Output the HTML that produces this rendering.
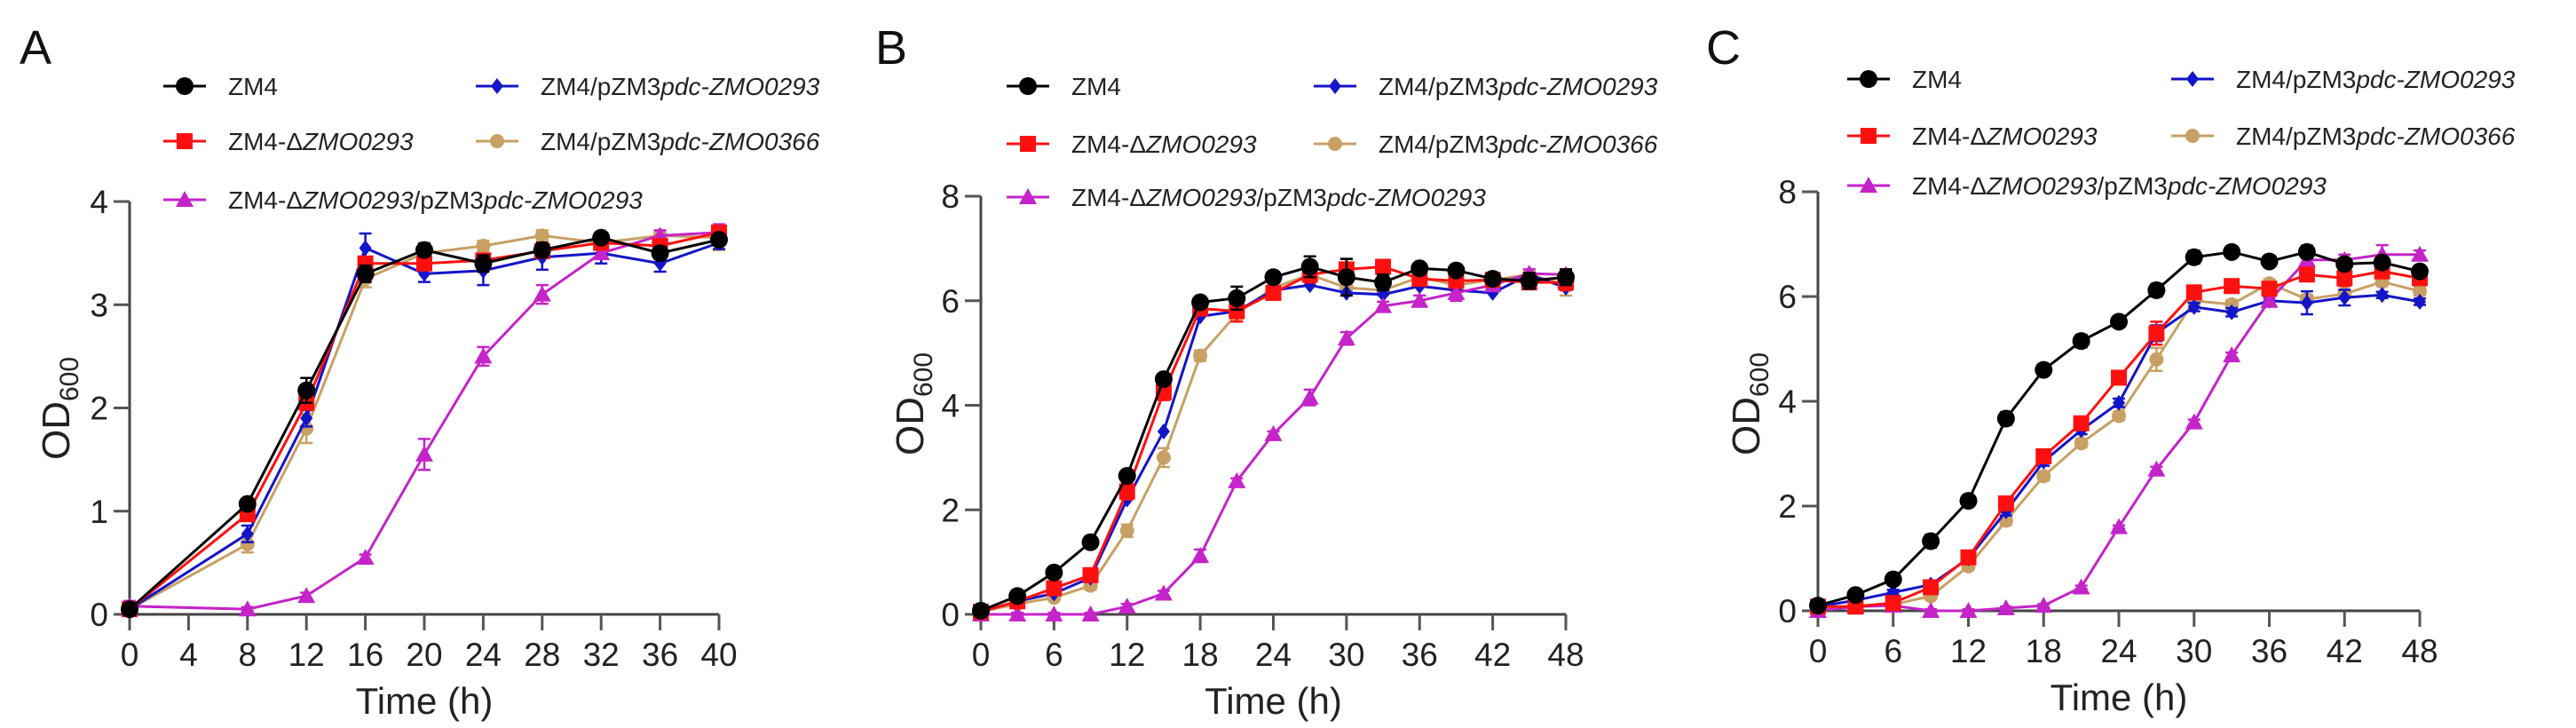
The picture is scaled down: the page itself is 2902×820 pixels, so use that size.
<!DOCTYPE html>
<html><head><meta charset="utf-8">
<style>
html,body{margin:0;padding:0;background:#fff;}
svg{display:block;font-family:"Liberation Sans",Arial,sans-serif;}
</style></head>
<body>
<svg id="fig" width="2902" height="820" viewBox="0 0 2902 820" xmlns="http://www.w3.org/2000/svg">
<text x="22" y="72" font-size="54" fill="#111">A</text>
<text x="986" y="72" font-size="54" fill="#111">B</text>
<text x="1922" y="72" font-size="54" fill="#111">C</text>
</svg>
<script>
// ---- Panel A data ----
const timeA = [0,8,12,16,20,24,28,32,36,40];
const a_zm4  = [0.05,1.07,2.17,3.30,3.53,3.40,3.53,3.65,3.50,3.63];
const a_del  = [0.05,0.97,2.05,3.40,3.40,3.43,3.52,3.60,3.57,3.70];
const a_blue = [0.05,0.78,1.90,3.55,3.30,3.33,3.46,3.50,3.40,3.60];
const a_tan  = [0.05,0.68,1.80,3.25,3.50,3.57,3.67,3.60,3.67,3.65];
const a_mag  = [0.08,0.05,0.18,0.55,1.55,2.50,3.10,3.50,3.67,3.70];
const a_err_zm4  = [0.03,0.05,0.12,0.08,0.06,0.08,0.07,0.04,0.06,0.05];
const a_err_blue = [0.03,0.08,0.08,0.14,0.08,0.14,0.12,0.10,0.08,0.06];
const a_err_tan  = [0.03,0.08,0.14,0.08,0.10,0.05,0.05,0.04,0.05,0.12];
const a_err_mag  = [0.05,0.02,0.03,0.03,0.15,0.09,0.09,0.05,0.05,0.08];
const a_xticks = [0,4,8,12,16,20,24,28,32,36,40];
const a_yticks = [0,1,2,3,4];
// ---- Panel B data ----
const timeBC = [0,3,6,9,12,15,18,21,24,27,30,33,36,39,42,45,48];
const b_zm4  = [0.07,0.35,0.80,1.38,2.65,4.50,5.97,6.05,6.45,6.65,6.45,6.35,6.62,6.58,6.42,6.38,6.45];
const b_del  = [0.05,0.25,0.50,0.75,2.35,4.25,5.85,5.80,6.15,6.50,6.60,6.65,6.42,6.38,6.40,6.35,6.35];
const b_blue = [0.05,0.25,0.40,0.70,2.20,3.50,5.70,5.80,6.20,6.30,6.15,6.12,6.28,6.20,6.15,6.50,6.25];
const b_tan  = [0.05,0.20,0.32,0.55,1.60,3.00,4.95,5.75,6.25,6.50,6.25,6.20,6.45,6.30,6.40,6.50,6.30];
const b_mag  = [0.00,0.00,0.00,0.00,0.15,0.40,1.12,2.55,3.45,4.15,5.28,5.90,6.00,6.15,6.30,6.52,6.50];
const b_err_zm4  = [0.05,0.05,0.08,0.10,0.10,0.10,0.10,0.22,0.10,0.20,0.35,0.15,0.10,0.10,0.10,0.15,0.15];
const b_err_del  = [0.05,0.05,0.08,0.08,0.15,0.15,0.10,0.20,0.10,0.15,0.20,0.10,0.10,0.10,0.10,0.10,0.15];
const b_err_tan  = [0.05,0.05,0.05,0.08,0.12,0.18,0.10,0.10,0.10,0.15,0.10,0.10,0.10,0.10,0.10,0.10,0.20];
const b_err_mag  = [0.03,0.03,0.03,0.03,0.05,0.05,0.12,0.05,0.05,0.15,0.12,0.08,0.10,0.15,0.10,0.08,0.10];
const b_xticks = [0,6,12,18,24,30,36,42,48];
const b_yticks = [0,2,4,6,8];
// ---- Panel C data ----
const c_zm4  = [0.10,0.30,0.60,1.33,2.10,3.67,4.60,5.15,5.52,6.12,6.75,6.85,6.67,6.85,6.62,6.65,6.48];
const c_del  = [0.08,0.08,0.15,0.45,1.02,2.05,2.95,3.58,4.45,5.30,6.08,6.20,6.15,6.42,6.35,6.48,6.35];
const c_blue = [0.08,0.20,0.35,0.50,1.00,1.90,2.85,3.45,3.97,5.30,5.80,5.70,5.92,5.88,5.98,6.03,5.90];
const c_tan  = [0.05,0.10,0.12,0.28,0.85,1.72,2.57,3.20,3.72,4.80,5.92,5.85,6.25,5.95,6.05,6.28,6.10];
const c_mag  = [0.00,0.08,0.10,0.00,0.00,0.05,0.10,0.45,1.60,2.70,3.60,4.88,5.92,6.70,6.70,6.80,6.80];
const c_err_zm4  = [0.05,0.05,0.06,0.12,0.06,0.12,0.06,0.12,0.06,0.12,0.12,0.06,0.06,0.12,0.10,0.08,0.08];
const c_err_del  = [0.05,0.05,0.05,0.10,0.08,0.10,0.10,0.10,0.10,0.22,0.08,0.08,0.08,0.12,0.15,0.10,0.10];
const c_err_blue = [0.05,0.05,0.05,0.05,0.05,0.08,0.08,0.08,0.08,0.15,0.08,0.08,0.08,0.22,0.15,0.06,0.06];
const c_err_tan  = [0.05,0.05,0.05,0.05,0.05,0.08,0.08,0.08,0.08,0.22,0.08,0.08,0.08,0.08,0.08,0.08,0.08];
const c_err_mag  = [0.03,0.03,0.03,0.03,0.03,0.03,0.03,0.03,0.03,0.05,0.05,0.05,0.05,0.22,0.10,0.18,0.08];
const c_xticks = [0,6,12,18,24,30,36,42,48];
const c_yticks = [0,2,4,6,8];

const NS = "http://www.w3.org/2000/svg";
const svg = document.getElementById('fig');
function mk(tag, attrs, parent){
  const e = document.createElementNS(NS, tag);
  for (const k in attrs) e.setAttribute(k, attrs[k]);
  (parent||svg).appendChild(e);
  return e;
}
const COL = {zm4:"#000000", del:"#ff1010", blue:"#1414c8", tan:"#c8a064", mag:"#c424c8"};

function marker(g, type, cx, cy, color, name){
  let m;
  if (type==="circle") m = mk('circle',{cx:cx,cy:cy,r:10,fill:color},g);
  else if (type==="square") m = mk('rect',{x:cx-9,y:cy-9,width:18,height:18,fill:color},g);
  else if (type==="diamond") m = mk('polygon',{points:`${cx},${cy-9} ${cx+7},${cy} ${cx},${cy+9} ${cx-7},${cy}`,fill:color},g);
  else if (type==="smallcircle") m = mk('circle',{cx:cx,cy:cy,r:8,fill:color},g);
  else m = mk('polygon',{points:`${cx},${cy-10} ${cx+10},${cy+8} ${cx-10},${cy+8}`,fill:color},g);
  
  
  return m;
}

function panel(p){
  const X = t => p.x0 + (t - 0) / p.xmax * (p.x1 - p.x0);
  const Y = v => p.y0 - v / p.ymax * (p.y0 - p.y1);
  const g = mk('g',{});
  
  
  // axes
  const ax = mk('path',{d:`M${p.x0},${Y(p.yticks[p.yticks.length-1])} L${p.x0},${p.y0} L${X(p.xticks[p.xticks.length-1])},${p.y0}`,stroke:"#444",'stroke-width':3,fill:"none"},g);
  
  
  p.yticks.forEach(v=>{
    const tl = mk('line',{x1:p.x0-18,x2:p.x0,y1:Y(v),y2:Y(v),stroke:"#555",'stroke-width':3},g);
    
    
    const tx = mk('text',{x:p.x0-24,y:Y(v)+13,'text-anchor':'end','font-size':37,fill:"#222"},g);
    tx.textContent = v;
    
    
  });
  p.xticks.forEach(t=>{
    const tl = mk('line',{x1:X(t),x2:X(t),y1:p.y0,y2:p.y0+18,stroke:"#555",'stroke-width':3},g);
    
    
    const tx = mk('text',{x:X(t),y:p.y0+58,'text-anchor':'middle','font-size':37,fill:"#222"},g);
    tx.textContent = t;
    
    
  });
  const xt = mk('text',{x:(p.x0+p.x1)/2,y:p.y0+112,'text-anchor':'middle','font-size':42,fill:"#222"},g);
  xt.textContent = "Time (h)";
  
  
  const yt = mk('text',{x:0,y:0,'text-anchor':'middle','font-size':44,fill:"#222",transform:`translate(${p.ytx},${p.yty}) rotate(-90)`},g);
  yt.innerHTML = 'OD<tspan font-size="30" dy="10">600</tspan>';
  
  
  // series
  p.series.forEach(s=>{
    const sg = mk('g',{},g);
    
    
    const pts = p.time.map((t,i)=>`${X(t)},${Y(s.vals[i])}`).join(' ');
    const pl = mk('polyline',{points:pts,fill:'none',stroke:COL[s.key],'stroke-width':3},sg);
    
    
    if (s.err){
      p.time.forEach((t,i)=>{
        const e = s.err[i], cx = X(t);
        const eb = mk('path',{d:`M${cx},${Y(s.vals[i]-e)} L${cx},${Y(s.vals[i]+e)} M${cx-7},${Y(s.vals[i]+e)} L${cx+7},${Y(s.vals[i]+e)} M${cx-7},${Y(s.vals[i]-e)} L${cx+7},${Y(s.vals[i]-e)}`,stroke:COL[s.key],'stroke-width':2.5,fill:'none'},sg);
        
        
      });
    }
    p.time.forEach((t,i)=>marker(sg, s.marker, X(t), Y(s.vals[i]), COL[s.key], 'point-' + s.key));
  });
  // legend
  const L = p.leg;
  const items = [
    {key:'zm4', marker:'circle', col:0, row:0, html:'ZM4'},
    {key:'del', marker:'square', col:0, row:1, html:'ZM4-Δ<tspan font-style="italic">ZMO0293</tspan>'},
    {key:'mag', marker:'triangle', col:0, row:2, html:'ZM4-Δ<tspan font-style="italic">ZMO0293</tspan>/pZM3<tspan font-style="italic">pdc-ZMO0293</tspan>'},
    {key:'blue', marker:'diamond', col:1, row:0, html:'ZM4/pZM3<tspan font-style="italic">pdc-ZMO0293</tspan>'},
    {key:'tan', marker:'smallcircle', col:1, row:1, html:'ZM4/pZM3<tspan font-style="italic">pdc-ZMO0366</tspan>'}
  ];
  items.forEach(it=>{
    const lx = it.col===0 ? L.lx0 : L.lx1;
    const y = L.rows[it.row];
    const lg = mk('g',{},g);
    
    
    const ln = mk('line',{x1:lx,x2:lx+48,y1:y,y2:y,stroke:COL[it.key],'stroke-width':3},lg);
    
    
    marker(lg, it.marker, lx+24, y, COL[it.key], 'legend-marker');
    const tx = mk('text',{x:lx+73,y:y+10,'font-size':28,fill:"#222"},lg);
    tx.innerHTML = it.html;
    
    
  });
}

panel({id:'a', x0:146, x1:810, xmax:40, y0:692, y1:227, ymax:4, time:timeA,
  xticks:a_xticks, yticks:a_yticks, ytx:78, yty:460,
  leg:{lx0:184, lx1:536, rows:[97,159,225]},
  series:[
    {key:'tan', vals:a_tan, err:a_err_tan, marker:'smallcircle'},
    {key:'blue', vals:a_blue, err:a_err_blue, marker:'diamond'},
    {key:'mag', vals:a_mag, err:a_err_mag, marker:'triangle'},
    {key:'del', vals:a_del, err:null, marker:'square'},
    {key:'zm4', vals:a_zm4, err:a_err_zm4, marker:'circle'}
  ]});
panel({id:'b', x0:1105, x1:1764, xmax:48, y0:692, y1:221, ymax:8, time:timeBC,
  xticks:b_xticks, yticks:b_yticks, ytx:1040, yty:455,
  leg:{lx0:1134, lx1:1480, rows:[97,162,222]},
  series:[
    {key:'tan', vals:b_tan, err:b_err_tan, marker:'smallcircle'},
    {key:'blue', vals:b_blue, err:null, marker:'diamond'},
    {key:'mag', vals:b_mag, err:b_err_mag, marker:'triangle'},
    {key:'del', vals:b_del, err:b_err_del, marker:'square'},
    {key:'zm4', vals:b_zm4, err:b_err_zm4, marker:'circle'}
  ]});
panel({id:'c', x0:2048, x1:2726, xmax:48, y0:688, y1:216, ymax:8, time:timeBC,
  xticks:c_xticks, yticks:c_yticks, ytx:1982, yty:455,
  leg:{lx0:2081, lx1:2446, rows:[89,153,209]},
  series:[
    {key:'tan', vals:c_tan, err:c_err_tan, marker:'smallcircle'},
    {key:'blue', vals:c_blue, err:c_err_blue, marker:'diamond'},
    {key:'mag', vals:c_mag, err:c_err_mag, marker:'triangle'},
    {key:'del', vals:c_del, err:c_err_del, marker:'square'},
    {key:'zm4', vals:c_zm4, err:c_err_zm4, marker:'circle'}
  ]});
</script>
</body></html>
